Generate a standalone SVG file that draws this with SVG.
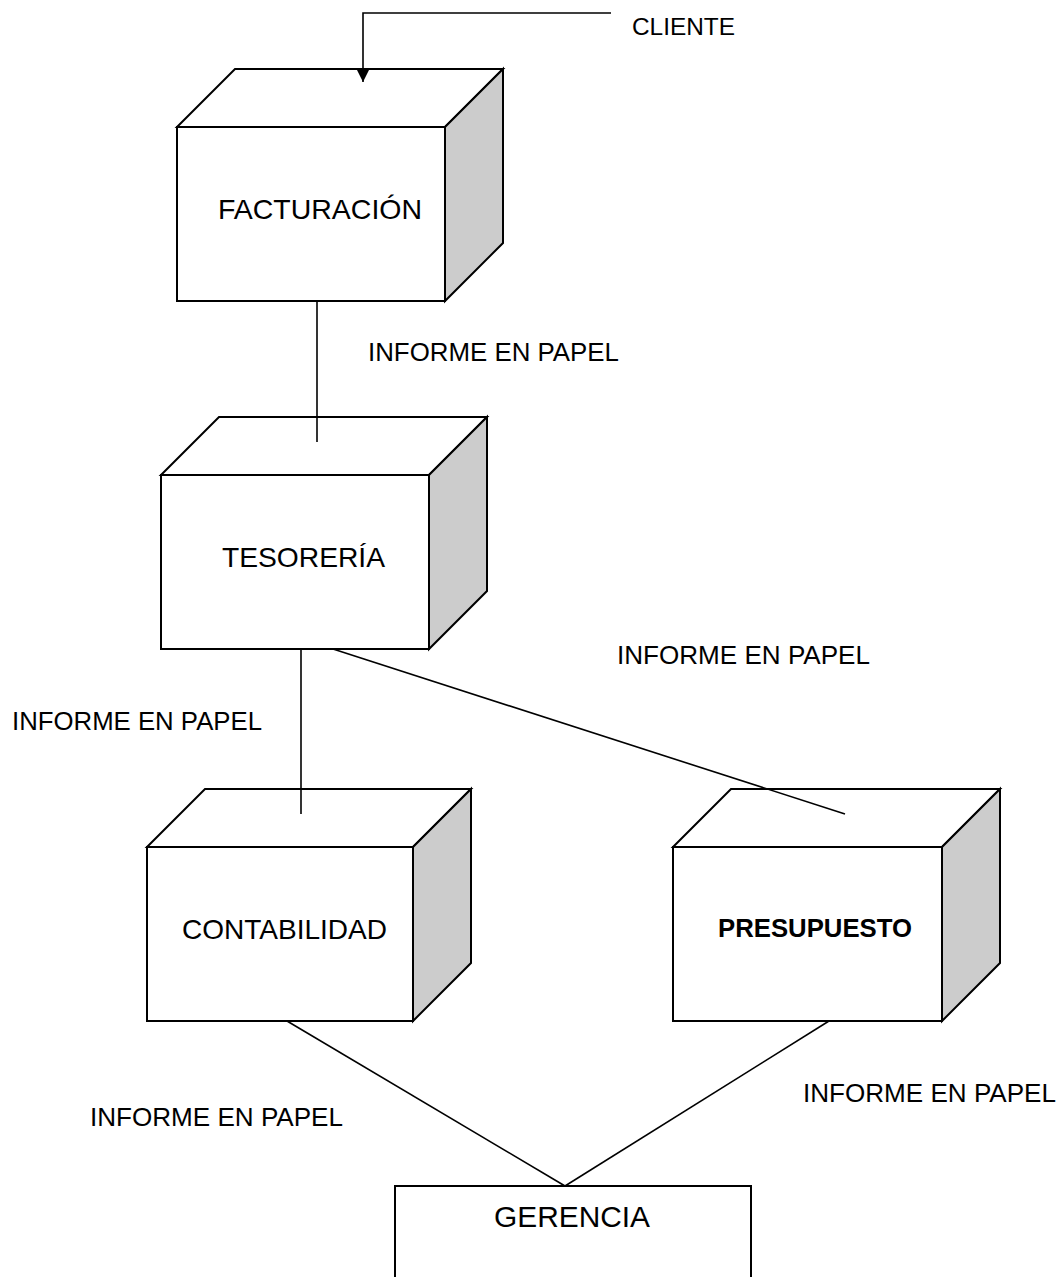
<svg xmlns="http://www.w3.org/2000/svg" width="1062" height="1277" viewBox="0 0 1062 1277">
<style>
.front{fill:#ffffff;stroke:#000;stroke-width:2}
.top{fill:#ffffff;stroke:#000;stroke-width:2;stroke-linejoin:miter}
.side{fill:#cccccc;stroke:#000;stroke-width:2;stroke-linejoin:miter}
.lbl{font-family:"Liberation Sans",Arial,sans-serif;fill:#000}
.conn{fill:none;stroke:#000;stroke-width:1.6}
</style>
<defs>
<marker id="arr" viewBox="0 0 10 10" refX="10" refY="5" markerUnits="userSpaceOnUse" markerWidth="14" markerHeight="14" orient="auto">
<path d="M0,0 L10,5 L0,10 z" fill="#000"/>
</marker>
</defs>
<rect width="1062" height="1277" fill="#ffffff"/>
<g id="facturacion">
<rect class="front" x="177" y="127" width="268" height="174"/>
<polygon class="top" points="177,127 235,69 503,69 445,127"/>
<polygon class="side" points="445,127 503,69 503,243 445,301"/>
<text class="lbl" x="218" y="219" font-size="28" textLength="204" lengthAdjust="spacingAndGlyphs">FACTURACIÓN</text>
</g>
<g id="tesoreria">
<rect class="front" x="161" y="475" width="268" height="174"/>
<polygon class="top" points="161,475 219,417 487,417 429,475"/>
<polygon class="side" points="429,475 487,417 487,591 429,649"/>
<text class="lbl" x="222" y="567" font-size="28" textLength="163" lengthAdjust="spacingAndGlyphs">TESORERÍA</text>
</g>
<g id="contabilidad">
<rect class="front" x="147" y="847" width="266" height="174"/>
<polygon class="top" points="147,847 205,789 471,789 413,847"/>
<polygon class="side" points="413,847 471,789 471,963 413,1021"/>
<text class="lbl" x="182" y="939" font-size="28" textLength="205" lengthAdjust="spacingAndGlyphs">CONTABILIDAD</text>
</g>
<g id="presupuesto">
<rect class="front" x="673" y="847" width="269" height="174"/>
<polygon class="top" points="673,847 731,789 1000,789 942,847"/>
<polygon class="side" points="942,847 1000,789 1000,963 942,1021"/>
<text class="lbl" x="718" y="937" font-size="25" font-weight="bold" textLength="194" lengthAdjust="spacingAndGlyphs">PRESUPUESTO</text>
</g>
<g id="gerencia">
<rect class="front" x="395" y="1186" width="356" height="93"/>
<text class="lbl" x="494" y="1227" font-size="30" textLength="156" lengthAdjust="spacingAndGlyphs">GERENCIA</text>
</g>
<g id="cliente">
<text class="lbl" x="632" y="35" font-size="24" textLength="103" lengthAdjust="spacingAndGlyphs">CLIENTE</text>
</g>
<g id="connectors">
<path class="conn" d="M611,13 L363,13 L363,82" marker-end="url(#arr)"/>
<line class="conn" x1="317" y1="301" x2="317" y2="442"/>
<line class="conn" x1="301" y1="649" x2="301" y2="814"/>
<line class="conn" x1="333" y1="649" x2="845" y2="814"/>
<line class="conn" x1="287" y1="1021" x2="565" y2="1186"/>
<line class="conn" x1="829" y1="1021" x2="565" y2="1186"/>
</g>
<g id="labels">
<text class="lbl" x="368" y="361" font-size="25.5" textLength="251" lengthAdjust="spacingAndGlyphs">INFORME EN PAPEL</text>
<text class="lbl" x="617" y="664" font-size="25.5" textLength="253" lengthAdjust="spacingAndGlyphs">INFORME EN PAPEL</text>
<text class="lbl" x="12" y="730" font-size="25.5" textLength="250" lengthAdjust="spacingAndGlyphs">INFORME EN PAPEL</text>
<text class="lbl" x="803" y="1102" font-size="25.5" textLength="253" lengthAdjust="spacingAndGlyphs">INFORME EN PAPEL</text>
<text class="lbl" x="90" y="1126" font-size="25.5" textLength="253" lengthAdjust="spacingAndGlyphs">INFORME EN PAPEL</text>
</g>
</svg>
